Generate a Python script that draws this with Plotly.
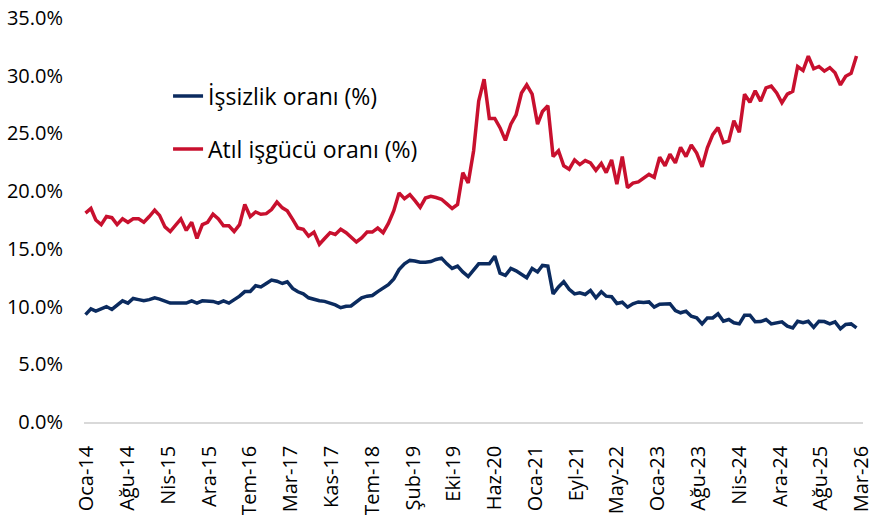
import pandas as pd
import plotly.graph_objects as go

# Monthly observations, Jan 2014 - Feb 2026
months = pd.date_range("2014-01-01", periods=146, freq="MS")

unemployment = [
    9.3, 9.8, 9.6, 9.8, 10.0, 9.75, 10.1, 10.5, 10.3, 10.7,
    10.6, 10.5, 10.6, 10.75, 10.65, 10.5, 10.3, 10.3, 10.3, 10.3,
    10.5, 10.3, 10.5, 10.5, 10.45, 10.3, 10.5, 10.3, 10.6, 10.9,
    11.3, 11.3, 11.8, 11.7, 12.0, 12.3, 12.2, 12.0, 12.15, 11.57,
    11.28, 11.1, 10.76, 10.6, 10.5, 10.45, 10.3, 10.15, 9.9, 10.03,
    10.05, 10.45, 10.75, 10.9, 10.96, 11.3, 11.6, 11.9, 12.4, 13.2,
    13.7, 14.0, 13.95, 13.85, 13.85, 13.9, 14.08, 14.2, 13.7, 13.3,
    13.5, 13.0, 12.6, 13.2, 13.7, 13.7, 13.7, 14.37, 12.9, 12.7,
    13.3, 13.1, 12.8, 12.5, 13.3, 13.0, 13.56, 13.5, 11.1, 11.7,
    12.15, 11.5, 11.1, 11.2, 11.05, 11.4, 10.76, 11.28, 10.9, 10.85,
    10.27, 10.38, 9.95, 10.24, 10.4, 10.35, 10.4, 9.95, 10.2, 10.2,
    10.25, 9.66, 9.46, 9.6, 9.17, 9.02, 8.5, 9.02, 9.02, 9.37,
    8.73, 8.88, 8.6, 8.5, 9.25, 9.25, 8.68, 8.7, 8.88, 8.5,
    8.6, 8.68, 8.3, 8.15, 8.73, 8.6, 8.73, 8.2, 8.73, 8.7,
    8.5, 8.68, 8.07, 8.45, 8.5, 8.15,
]

underutilization = [
    18.1, 18.5, 17.5, 17.1, 17.8, 17.7, 17.1, 17.6, 17.3, 17.6,
    17.6, 17.3, 17.8, 18.35, 17.9, 16.9, 16.5, 17.1, 17.6, 16.6,
    17.3, 15.9, 17.1, 17.3, 18.0, 17.6, 17.0, 17.0, 16.5, 17.1,
    18.85, 17.8, 18.2, 18.0, 18.05, 18.4, 19.05, 18.55, 18.3, 17.55,
    16.8, 16.7, 16.1, 16.45, 15.4, 15.9, 16.4, 16.25, 16.7, 16.4,
    16.0, 15.6, 15.95, 16.45, 16.45, 16.8, 16.4, 17.2, 18.3, 19.85,
    19.35, 19.7, 19.2, 18.6, 19.4, 19.55, 19.45, 19.3, 18.9, 18.5,
    18.85, 21.6, 20.7, 23.5, 27.8, 29.7, 26.3, 26.3, 25.5, 24.4,
    25.8, 26.6, 28.5, 29.2, 28.4, 25.8, 26.9, 27.4, 23.0, 23.5,
    22.2, 21.9, 22.7, 22.3, 22.65, 22.45, 21.8, 22.4, 21.6, 22.7,
    20.6, 23.0, 20.3, 20.7, 20.8, 21.1, 21.45, 21.2, 22.95, 22.2,
    23.2, 22.45, 23.8, 23.0, 24.0, 23.3, 22.1, 23.75, 24.9, 25.5,
    24.2, 24.35, 26.1, 25.1, 28.4, 27.7, 28.7, 27.8, 28.95, 29.1,
    28.5, 27.65, 28.4, 28.65, 30.8, 30.45, 31.7, 30.6, 30.8, 30.4,
    30.7, 30.25, 29.2, 29.95, 30.2, 31.7,
]

tick_labels = [
    "Oca-14", "Ağu-14", "Nis-15", "Ara-15", "Tem-16", "Mar-17", "Kas-17",
    "Tem-18", "Şub-19", "Eki-19", "Haz-20", "Oca-21", "Eyl-21", "May-22",
    "Oca-23", "Ağu-23", "Nis-24", "Ara-24", "Ağu-25", "Mar-26",
]

series_names = ["İşsizlik oranı (%)", "Atıl işgücü oranı (%)"]

# tick positions: evenly spaced date ticks
tick_start = pd.Timestamp("2014-01-08")
tick_step = pd.Timedelta(days=233.5)
tick_vals = [(tick_start + k * tick_step).strftime("%Y-%m-%d %H:%M") for k in range(len(tick_labels))]

FONT = "Open Sans, Noto Sans, sans-serif"
BLUE = "#0B2B5F"
RED = "#C8102E"

fig = go.Figure()
fig.add_trace(go.Scatter(
    x=months, y=unemployment, mode="lines", name=series_names[0],
    line=dict(color=BLUE, width=3.5), legendgroup="a",
))
fig.add_trace(go.Scatter(
    x=months, y=underutilization, mode="lines", name=series_names[1],
    line=dict(color=RED, width=3.5), legendgroup="b",
))

fig.update_layout(
    width=871, height=515,
    margin=dict(l=84, r=8, t=18, b=93, autoexpand=False),
    paper_bgcolor="white", plot_bgcolor="white",
    font=dict(family=FONT, size=20, color="#000000"),
    showlegend=True,
    legend=dict(
        x=0.1079, y=0.86, xanchor="left", yanchor="top",
        font=dict(family=FONT, size=23, color="#000000"),
        bgcolor="rgba(0,0,0,0)", tracegroupgap=20,
    ),
    xaxis=dict(
        type="date", automargin=False,
        range=["2013-12-23 10:00", "2026-03-10 05:00"],
        tickmode="array", tickvals=tick_vals, ticktext=tick_labels,
        tickangle=-90, ticks="", showgrid=False, zeroline=False,
        showline=True, linecolor="#D9D9D9", linewidth=1.5,
        tickfont=dict(family=FONT, size=20, color="#000000"),
        ticklabelstandoff=14, ticklabeloverflow="allow",
    ),
    yaxis=dict(
        range=[0, 35], dtick=5, tickformat=".1f", ticksuffix="%",
        automargin=False,
        showgrid=False, zeroline=False, showline=False, ticks="",
        tickfont=dict(family=FONT, size=20, color="#000000"),
        ticklabelstandoff=20,
    ),
)

fig.write_html(
    "out.html",
    config={"displayModeBar": False},
    post_script="document.body.style.margin='0';document.body.style.overflow='hidden';",
)
